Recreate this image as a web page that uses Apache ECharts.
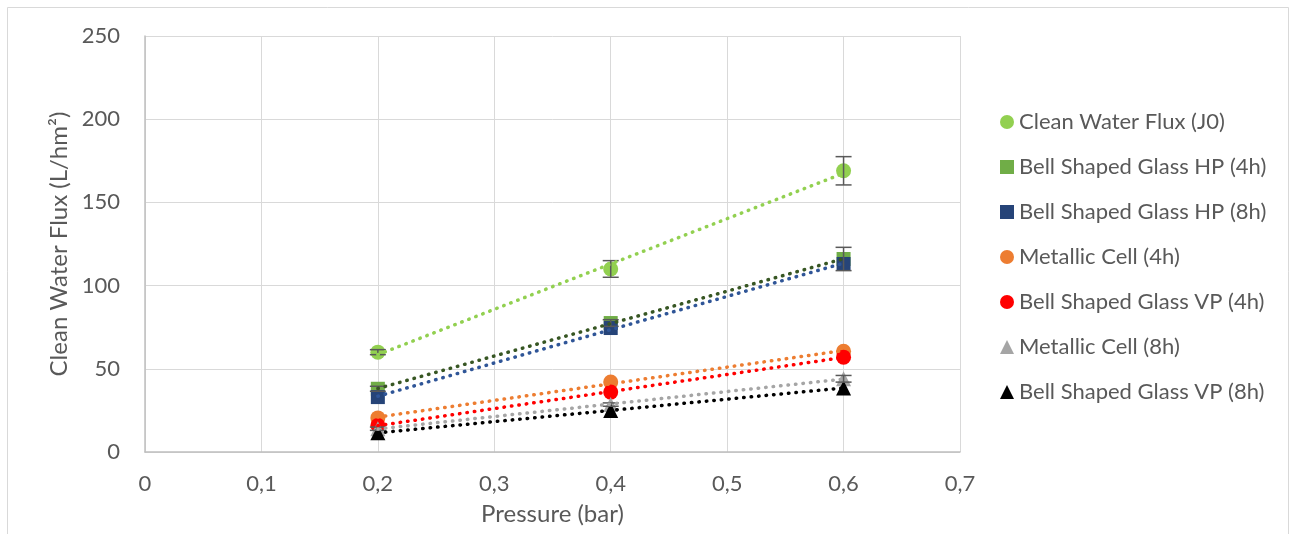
<!DOCTYPE html>
<html>
<head>
<meta charset="utf-8">
<script src="https://cdn.jsdelivr.net/npm/echarts@6/dist/echarts.min.js"></script>
<style>
  html, body { margin: 0; padding: 0; background: #ffffff; }
  #chart { width: 1295px; height: 534px; }
</style>
</head>
<body>
<div id="chart"></div>
<script>
// Transmembrane pressure (bar)
const pressure = [0.2, 0.4, 0.6];

// Clean water flux values (L/hm²) per test configuration
const seriesNames = [
  'Clean Water Flux (J0)',
  'Bell Shaped Glass HP (4h)',
  'Bell Shaped Glass HP (8h)',
  'Metallic Cell (4h)',
  'Bell Shaped Glass VP (4h)',
  'Metallic Cell (8h)',
  'Bell Shaped Glass VP (8h)'
];
const fluxJ0      = [60, 110, 169];
const fluxHP4h    = [38, 77.5, 116];
const fluxHP8h    = [33, 74.5, 113];
const fluxMetal4h = [20.5, 42, 60.5];
const fluxVP4h    = [16, 36, 57];
const fluxMetal8h = [14, 28.5, 44];
const fluxVP8h    = [11.5, 25, 38.5];

// Standard deviations (± L/hm²) shown as error bars
const errJ0      = [1.5, 5, 8.5];
const errHP4h    = [1.5, 2, 7];
const errMetal8h = [1, 1, 2];

// Axis tick values
const xTicks = [0, 0.1, 0.2, 0.3, 0.4, 0.5, 0.6, 0.7];
const yTicks = [0, 50, 100, 150, 200, 250];

const values = [fluxJ0, fluxHP4h, fluxHP8h, fluxMetal4h, fluxVP4h, fluxMetal8h, fluxVP8h];
const markerColors = ['#92D050', '#70AD47', '#264478', '#ED7D31', '#FF0000', '#A5A5A5', '#000000'];
const trendColors  = ['#92D050', '#375623', '#2F5597', '#ED7D31', '#FF0000', '#A5A5A5', '#000000'];
const symbols = ['circle', 'rect', 'rect', 'circle', 'circle', 'triangle', 'triangle'];
const symbolSizes = [15, 14, 14, 15, 15, 15, 15];

const FONT = 'Lato, "Open Sans", sans-serif';
const TEXT = '#595959';

// Least-squares linear trendline across the measured pressures
function linearFit(xs, ys) {
  const n = xs.length;
  const mx = xs.reduce((a, b) => a + b, 0) / n;
  const my = ys.reduce((a, b) => a + b, 0) / n;
  let sxy = 0, sxx = 0;
  for (let i = 0; i < n; i++) { sxy += (xs[i] - mx) * (ys[i] - my); sxx += (xs[i] - mx) ** 2; }
  const slope = sxy / sxx;
  const icpt = my - slope * mx;
  return [[xs[0], icpt + slope * xs[0]], [xs[n - 1], icpt + slope * xs[n - 1]]];
}

function errorSeries(vals, errs) {
  return {
    type: 'custom',
    silent: true,
    z: 4,
    data: pressure.map((p, i) => [p, vals[i] - errs[i], vals[i] + errs[i]]),
    renderItem: function (params, api) {
      const lo = api.coord([api.value(0), api.value(1)]);
      const hi = api.coord([api.value(0), api.value(2)]);
      const w = 8;
      const style = { stroke: '#595959', lineWidth: 1.5 };
      return {
        type: 'group',
        children: [
          { type: 'line', shape: { x1: lo[0], y1: lo[1], x2: hi[0], y2: hi[1] }, style },
          { type: 'line', shape: { x1: lo[0] - w, y1: lo[1], x2: lo[0] + w, y2: lo[1] }, style },
          { type: 'line', shape: { x1: hi[0] - w, y1: hi[1], x2: hi[0] + w, y2: hi[1] }, style }
        ]
      };
    }
  };
}

const series = [];
series.push(errorSeries(fluxJ0, errJ0));
series.push(errorSeries(fluxHP4h, errHP4h));
series.push(errorSeries(fluxMetal8h, errMetal8h));

values.forEach((vals, k) => {
  series.push({
    name: seriesNames[k],
    type: 'scatter',
    symbol: symbols[k],
    symbolSize: symbolSizes[k],
    itemStyle: { color: markerColors[k], opacity: 1 },
    z: 3,
    data: pressure.map((p, i) => [p, vals[i]])
  });
});

values.forEach((vals, k) => {
  series.push({
    name: seriesNames[k] + ' trend',
    type: 'line',
    silent: true,
    symbol: 'none',
    z: 5,
    lineStyle: { color: trendColors[k], width: 3.5, type: [0.5, 7], cap: 'round' },
    data: linearFit(pressure, vals)
  });
});

const chart = echarts.init(document.getElementById('chart'), null, { renderer: 'canvas' });
chart.setOption({
  animation: false,
  backgroundColor: '#ffffff',
  graphic: [{
    type: 'rect',
    shape: { x: 7.5, y: 7.5, width: 1281, height: 540 },
    style: { fill: 'none', stroke: '#D9D9D9', lineWidth: 1 },
    silent: true
  }],
  grid: { left: 145, right: 335, top: 36, bottom: 82, outerBoundsMode: 'none' },
  legend: {
    orient: 'vertical',
    left: 1000,
    top: 111,
    padding: 0,
    itemWidth: 14,
    itemHeight: 14,
    itemGap: 23,
    data: seriesNames.map((n, k) => ({ name: n, icon: symbols[k] })),
    textStyle: { color: TEXT, fontSize: 22, fontFamily: FONT }
  },
  xAxis: {
    type: 'value',
    min: 0, max: 0.7, interval: 0.1,
    name: 'Pressure (bar)',
    nameLocation: 'middle',
    nameGap: 50,
    nameTextStyle: { color: TEXT, fontSize: 24, fontFamily: FONT },
    axisLine: { show: true, onZero: false, lineStyle: { color: '#BFBFBF', width: 1.5 } },
    axisTick: { show: false },
    axisLabel: {
      color: TEXT, fontSize: 22, fontFamily: FONT, margin: 21,
      formatter: v => {
        const t = xTicks.find(x => Math.abs(x - v) < 1e-9);
        return t === 0 ? '0' : (t !== undefined ? t : v).toFixed(1).replace('.', ',');
      }
    },
    splitLine: { show: true, lineStyle: { color: '#D9D9D9', width: 1 } }
  },
  yAxis: {
    type: 'value',
    min: yTicks[0], max: yTicks[yTicks.length - 1], interval: 50,
    name: 'Clean Water Flux (L/hm²)',
    nameLocation: 'middle',
    nameGap: 71,
    nameTextStyle: { color: TEXT, fontSize: 24, fontFamily: FONT },
    axisLine: { show: true, lineStyle: { color: '#BFBFBF', width: 1.5 } },
    axisTick: { show: false },
    axisLabel: { color: TEXT, fontSize: 22, fontFamily: FONT, margin: 25 },
    splitLine: { show: true, lineStyle: { color: '#D9D9D9', width: 1 } }
  },
  series: series
});
</script>
</body>
</html>
